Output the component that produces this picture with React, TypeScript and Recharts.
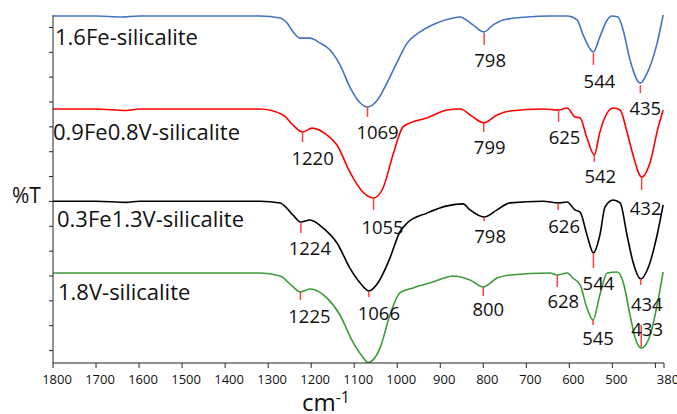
import { ComposedChart, Line, Scatter, XAxis, YAxis } from 'recharts';

// wavenumber (cm-1) and offset %T
const feWn = [1800, 1700, 1640, 1600, 1500, 1400, 1319, 1272, 1256, 1242, 1226, 1203, 1179, 1156, 1133, 1110, 1086, 1069, 1047, 1024, 1000, 977, 947, 908, 870, 854, 824, 798, 777, 754, 698, 645, 605, 582, 568, 544, 529, 512, 501, 487, 475, 459, 435, 419, 396, 382];
const feT = [139.6, 139.6, 139.2, 139.6, 139.6, 139.6, 139.6, 138.8, 136.8, 133.2, 130.7, 130.7, 128.7, 125.9, 119.9, 111.0, 104.6, 103.0, 105.6, 112.6, 121.1, 128.7, 133.2, 136.8, 138.8, 139.2, 136.0, 133.2, 136.0, 138.0, 139.2, 139.6, 139.6, 138.0, 132.0, 125.1, 131.2, 138.0, 139.6, 139.2, 134.0, 121.9, 112.6, 116.7, 128.7, 140];

const feVWn = [1800, 1700, 1630, 1600, 1500, 1400, 1319, 1265, 1242, 1220, 1198, 1163, 1140, 1110, 1080, 1055, 1033, 1010, 987, 970, 931, 884, 854, 824, 799, 768, 738, 661, 625, 605, 587, 575, 559, 542, 529, 512, 498, 482, 466, 452, 432, 412, 394, 382];
const feVT = [102.2, 102.2, 101.6, 102.2, 102.2, 102.2, 102.2, 99.8, 95.7, 92.9, 94.5, 91.7, 87.7, 76.8, 68.8, 66.4, 70.4, 83.7, 94.9, 96.6, 98.6, 101.8, 102.2, 99.0, 96.6, 99.8, 101.4, 102.2, 101.8, 102.6, 99.0, 98.6, 90.5, 83.7, 92.9, 100.6, 102.6, 101.8, 92.9, 83.7, 74.8, 80.9, 94.5, 101.8];

const vFeWn = [1800, 1700, 1630, 1600, 1500, 1400, 1319, 1272, 1242, 1224, 1203, 1172, 1140, 1110, 1086, 1066, 1045, 1017, 994, 977, 931, 884, 847, 831, 798, 768, 738, 661, 626, 605, 587, 575, 559, 544, 529, 517, 498, 482, 466, 452, 434, 417, 396, 382];
const vFeT = [65.1, 65.1, 64.6, 65.1, 65.1, 65.1, 65.1, 64.4, 59.5, 56.7, 57.5, 54.3, 48.3, 38.2, 32.2, 29.0, 32.2, 42.2, 52.7, 56.3, 60.3, 63.2, 64.0, 61.6, 58.7, 61.6, 64.4, 65.1, 64.4, 64.8, 61.6, 60.7, 51.5, 44.3, 51.5, 62.8, 65.6, 64.4, 51.5, 40.6, 33.8, 38.2, 51.5, 63.6];

const vWn = [1800, 1700, 1600, 1500, 1400, 1319, 1272, 1242, 1225, 1203, 1163, 1133, 1103, 1080, 1068, 1040, 1017, 994, 963, 917, 870, 831, 800, 768, 738, 645, 628, 605, 592, 575, 559, 545, 529, 512, 489, 475, 459, 447, 433, 412, 396, 382];
const vT = [36.2, 36.2, 36.2, 36.2, 36.2, 36.2, 35.0, 30.6, 28.6, 29.8, 26.1, 19.3, 8.4, 2.4, 0.2, 6.0, 19.3, 28.2, 30.2, 32.6, 35.0, 33.4, 30.6, 34.2, 35.4, 36.2, 35.4, 36.2, 34.2, 31.4, 22.1, 17.3, 27.4, 36.2, 36.6, 32.6, 19.3, 10.1, 6.0, 11.3, 23.3, 36.6];

// marked peaks: wavenumber and %T where the red marker starts
const fePeaks = [1069, 798, 544, 435];
const fePeakT = [103.0, 132.8, 124.7, 111.8];
const feVPeaks = [1220, 1055, 799, 625, 542, 432];
const feVPeakT = [92.9, 66.4, 96.6, 101.8, 83.7, 74.8];
const vFePeaks = [1224, 1066, 798, 626, 544, 434];
const vFePeakT = [56.7, 28.6, 58.7, 64.4, 44.3, 33.8];
const vPeaks = [1225, 800, 628, 545, 433];
const vPeakT = [28.6, 30.6, 35.4, 17.3, 15.3];

const xTicks = [1800, 1700, 1600, 1500, 1400, 1300, 1200, 1100, 1000, 900, 800, 700, 600, 500, 400, 380];
const yTicks = [5, 15, 25, 35, 45, 55, 65, 75, 85, 95, 105, 115, 125, 135];

// marker length / label offset (px) per peak
const feLayout = [[10, 25, 10], [12, 27, 6], [12, 27, 6], [8, 22, 5]];
const feVLayout = [[10, 25, 10], [12, 29, 9], [9, 24, 6], [12, 27, 6], [7, 21, 6], [13, 30, 4]];
const vFeLayout = [[11, 25, 9], [5, 21, 10], [4, 18, 6], [7, 23, 6], [15, 30, 5], [6, 25, 6]];
const vLayout = [[8, 24, 9], [9, 22, 5], [12, 25, 6], [5, 18, 5], [22, 4, 6]];

const FONT = '"Open Sans", sans-serif';

const toData = (wn: number[], t: number[]) => wn.map((w, i) => ({ w, t: t[i] }));
const toPeaks = (wn: number[], t: number[], layout: number[][]) =>
  wn.map((w, i) => ({ w, t: t[i], len: layout[i][0], dy: layout[i][1], dx: layout[i][2] }));

const series = [
  { name: '1.6Fe-silicalite', color: '#4472c4', data: toData(feWn, feT), peaks: toPeaks(fePeaks, fePeakT, feLayout) },
  { name: '0.9Fe0.8V-silicalite', color: '#ff0000', data: toData(feVWn, feVT), peaks: toPeaks(feVPeaks, feVPeakT, feVLayout) },
  { name: '0.3Fe1.3V-silicalite', color: '#000000', data: toData(vFeWn, vFeT), peaks: toPeaks(vFePeaks, vFePeakT, vFeLayout) },
  { name: '1.8V-silicalite', color: '#3e9a3a', data: toData(vWn, vT), peaks: toPeaks(vPeaks, vPeakT, vLayout) },
];

const nameLabels = [
  { x: 55, y: 45 },
  { x: 53, y: 140 },
  { x: 57, y: 227 },
  { x: 58, y: 300 },
];

const PeakMark = (props: any) => {
  const { cx, cy, payload } = props;
  if (cx == null || cy == null) return <g />;
  return (
    <g>
      <line x1={cx} y1={cy} x2={cx} y2={cy + payload.len} stroke="#ff4040" strokeWidth={1.5} />
      <text x={cx + payload.dx} y={cy + payload.dy} textAnchor="middle" dominantBaseline="central"
        fontSize={18.5} fontFamily={FONT} fill="#111">
        {payload.w}
      </text>
    </g>
  );
};

const XLabel = (props: any) => {
  const vb = props.viewBox || { x: 53, y: 363 };
  return (
    <text x={302} y={vb.y + 48} fontFamily={FONT} fill="#111">
      <tspan fontSize={24}>cm</tspan>
      <tspan fontSize={16} dy={-8}>-1</tspan>
    </text>
  );
};

export default function App() {
  return (
    <div style={{ position: 'absolute', left: 0, top: 0, width: 677, height: 414, background: '#fff' }}>
      <ComposedChart width={677} height={414} margin={{ top: 15, right: 13, left: 0, bottom: 0 }}>
        <XAxis
          type="number"
          dataKey="w"
          domain={[380, 1800]}
          reversed
          allowDataOverflow
          ticks={xTicks}
          interval={0}
          tickFormatter={(v) => (v === 400 ? '' : String(v))}
          height={51}
          tickSize={5}
          tickMargin={7}
          stroke="#222"
          tick={{ fontSize: 13, fontFamily: FONT, fill: '#111', dx: 4 }}
          label={<XLabel />}
        />
        <YAxis
          type="number"
          dataKey="t"
          domain={[0, 140]}
          allowDataOverflow
          ticks={yTicks}
          interval={0}
          width={53}
          tickSize={4}
          tickFormatter={() => ''}
          stroke="#222"
        />
        {series.map((s) => (
          <Line
            key={s.name}
            data={s.data}
            dataKey="t"
            type="monotone"
            stroke={s.color}
            strokeWidth={1.6}
            dot={false}
            activeDot={false}
            isAnimationActive={false}
          />
        ))}
        {series.map((s) => (
          <Scatter key={s.name + '-peaks'} data={s.peaks} dataKey="t" shape={<PeakMark />} isAnimationActive={false} />
        ))}
      </ComposedChart>
      <svg width={677} height={414} style={{ position: 'absolute', left: 0, top: 0, pointerEvents: 'none' }}>
        {series.map((s, i) => (
          <text key={s.name} x={nameLabels[i].x} y={nameLabels[i].y} fontSize={22} fontFamily={FONT} fill="#111">
            {s.name}
          </text>
        ))}
        <text x={12} y={203} fontSize={21} fontFamily={FONT} fill="#111">%T</text>
      </svg>
    </div>
  );
}
